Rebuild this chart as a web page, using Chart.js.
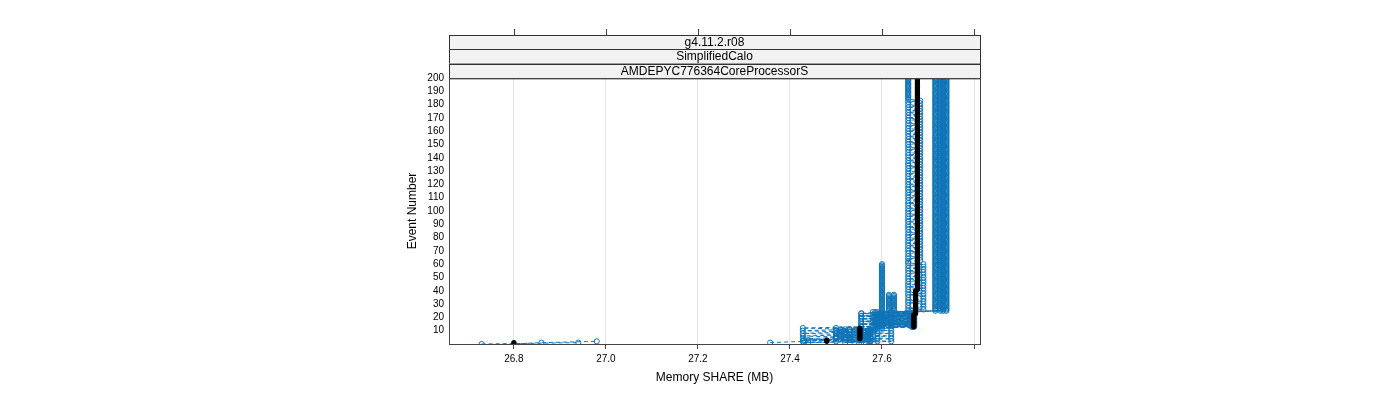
<!DOCTYPE html>
<html>
<head>
<meta charset="utf-8">
<script src="https://cdn.jsdelivr.net/npm/chart.js@4.4.1/dist/chart.umd.min.js"></script>
<style>
  body { margin: 0; background: #fff; }
  #wrap { width: 1400px; height: 400px; }
</style>
</head>
<body>
<div id="wrap"><canvas id="memChart" width="1400" height="400"></canvas></div>
<script>
// tick values and strip texts
const memoryTicks = [26.8, 27.0, 27.2, 27.4, 27.6, 27.8];
const eventTicks = [10, 20, 30, 40, 50, 60, 70, 80, 90, 100, 110, 120, 130, 140, 150, 160, 170, 180, 190, 200];
const stripLabels = ['g4.11.2.r08', 'SimplifiedCalo', 'AMDEPYC776364CoreProcessorS'];

// runs: [firstEvent, lastEvent, memory MB, (memory MB when it flips every other event)]
const runA = [[0, 0, 26.73], [1, 1, 26.94]];
const runB = [[0, 0, 26.80], [1, 1, 26.86], [2, 2, 26.98]];
const runC = [[1, 1, 27.357], [2, 12, 27.428, 27.53], [13, 24, 27.555, 27.62], [25, 61, 27.657, 27.69], [62, 184, 27.657, 27.683], [185, 200, 27.657]];
const runD = [[1, 3, 27.43, 27.574], [4, 11, 27.50, 27.574], [12, 24, 27.59, 27.665], [25, 60, 27.60]];
const runE = [[1, 1, 27.43], [2, 12, 27.50, 27.55], [13, 24, 27.60, 27.67], [25, 37, 27.615]];
const runF = [[1, 4, 27.44, 27.57], [5, 11, 27.51, 27.57], [12, 24, 27.58, 27.668], [25, 37, 27.626]];
const runG = [[1, 24, 27.555, 27.62], [25, 200, 27.716]];
const runH = [[1, 12, 27.55, 27.59], [13, 24, 27.59, 27.66], [25, 200, 27.727]];
const runI = [[1, 11, 27.52, 27.575], [12, 24, 27.585, 27.67], [25, 200, 27.740]];
const runJ = [[1, 11, 27.53, 27.575], [12, 24, 27.60, 27.665], [25, 200, 27.733]];
const refRun = [[1, 1, 26.80], [2, 3, 27.48], [4, 12, 27.552], [13, 22, 27.669], [23, 40, 27.673], [41, 200, 27.677]];

const blueRuns = [runA, runB, runC, runD, runE, runF, runG, runH, runI, runJ];
const blue = '#0f74b7';

function expandRun(pieces) {
    const pts = [];
    pieces.forEach(([first, last, a, b]) => {
        for (let ev = first; ev <= last; ev++) {
            const flip = b !== undefined && (ev - first) % 2 === 1;
            pts.push({ x: flip ? b : a, y: ev });
        }
    });
    return pts;
}

const datasets = [{
    data: expandRun(refRun),
    showLine: false,
    pointRadius: 2.6,
    pointBorderWidth: 0,
    pointBackgroundColor: '#000',
    pointBorderColor: '#000'
}];
blueRuns.forEach(run => {
    datasets.push({
        data: expandRun(run),
        showLine: true,
        borderColor: blue,
        borderWidth: 1,
        borderDash: [4, 3],
        tension: 0,
        pointRadius: 2.6,
        pointBorderWidth: 1,
        pointBorderColor: blue,
        pointBackgroundColor: 'rgba(0,0,0,0)'
    });
});

const latticeDecor = {
    id: 'latticeDecor',
    afterDraw(chart) {
        const { ctx, chartArea: a, scales } = chart;
        ctx.save();
        // strips
        const stripTop = 35, stripH = (a.top - stripTop) / stripLabels.length;
        ctx.font = '12px "Liberation Sans", Arial, sans-serif';
        ctx.textAlign = 'center';
        ctx.textBaseline = 'middle';
        stripLabels.forEach((lab, i) => {
            const y = stripTop + i * stripH;
            ctx.fillStyle = '#f2f2f2';
            ctx.fillRect(a.left, y, a.right - a.left, stripH);
            ctx.strokeStyle = '#333';
            ctx.lineWidth = 1;
            ctx.strokeRect(a.left + 0.5, Math.round(y) + 0.5, a.right - a.left, stripH);
            ctx.fillStyle = '#000';
            ctx.fillText(lab, (a.left + a.right) / 2, y + stripH / 2 + 0.5);
        });
        // top ticks
        ctx.strokeStyle = '#444';
        memoryTicks.forEach(v => {
            const x = Math.round(scales.x.getPixelForValue(v)) + 0.5;
            ctx.beginPath();
            ctx.moveTo(x, stripTop - 6);
            ctx.lineTo(x, stripTop);
            ctx.stroke();
        });
        // panel border
        ctx.strokeStyle = '#444';
        ctx.strokeRect(a.left + 0.5, a.top + 0.5, a.right - a.left, a.bottom - a.top);
        // axis titles
        ctx.fillStyle = '#000';
        ctx.font = '12px "Liberation Sans", Arial, sans-serif';
        ctx.fillText('Memory SHARE (MB)', (a.left + a.right) / 2, 378);
        ctx.translate(413, (a.top + a.bottom) / 2);
        ctx.rotate(-Math.PI / 2);
        ctx.fillText('Event Number', 0, 0);
        ctx.restore();
    }
};

new Chart(document.getElementById('memChart'), {
    type: 'scatter',
    data: { datasets: datasets },
    plugins: [latticeDecor],
    options: {
        responsive: false,
        animation: false,
        devicePixelRatio: 1,
        layout: { padding: { top: 78, left: 409, right: 420, bottom: 26 } },
        plugins: { legend: { display: false }, tooltip: { enabled: false } },
        scales: {
            x: {
                type: 'linear',
                min: 26.659,
                max: 27.813,
                afterBuildTicks: s => { s.ticks = memoryTicks.map(v => ({ value: v })); },
                afterFit: s => { s.height = 30; },
                border: { display: false },
                grid: { color: '#e6e6e6', tickColor: '#444', tickLength: 5 },
                ticks: {
                    autoSkip: false,
                    maxRotation: 0,
                    padding: 4,
                    color: '#000',
                    font: { size: 10, family: '"Liberation Sans", Arial, sans-serif' },
                    callback: v => (v > 27.75 ? '' : v.toFixed(1))
                }
            },
            y: {
                type: 'linear',
                min: 0,
                max: 200,
                afterBuildTicks: s => { s.ticks = eventTicks.map(v => ({ value: v })); },
                afterFit: s => { s.width = 40; },
                border: { display: false },
                grid: { display: false, drawTicks: false },
                ticks: {
                    autoSkip: false,
                    padding: 5,
                    color: '#000',
                    font: { size: 10, family: '"Liberation Sans", Arial, sans-serif' }
                }
            }
        }
    }
});
</script>
</body>
</html>
